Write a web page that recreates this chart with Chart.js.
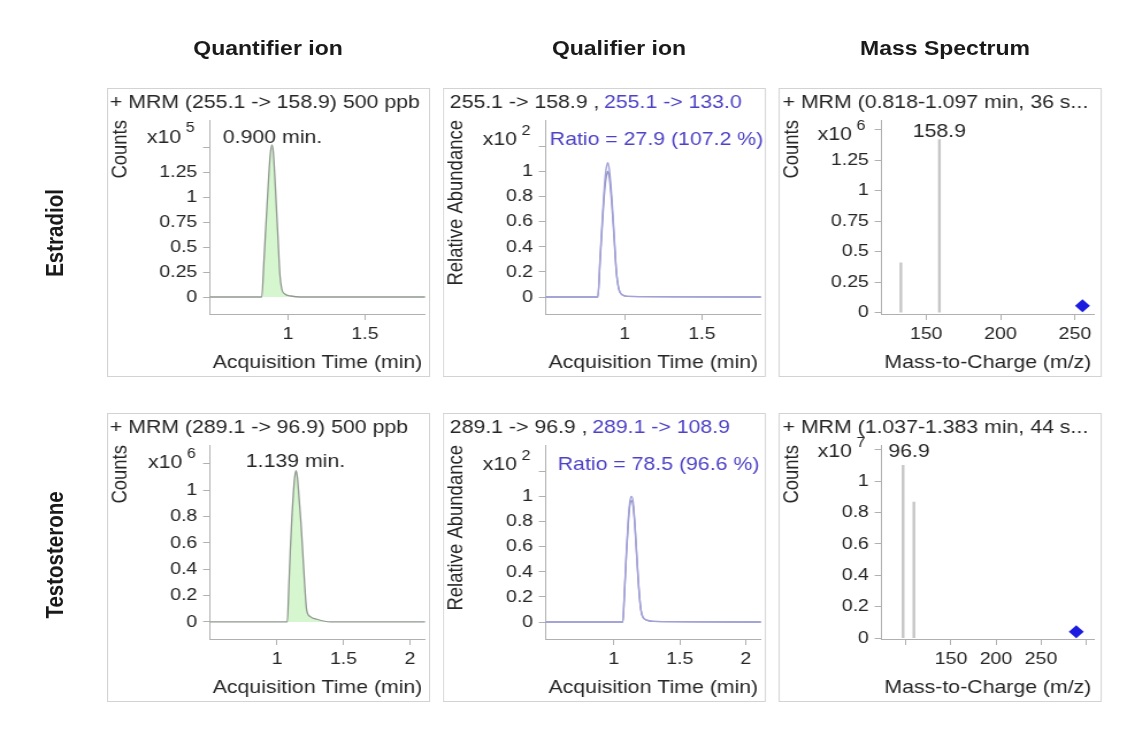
<!DOCTYPE html>
<html>
<head>
<meta charset="utf-8">
<title>Estradiol / Testosterone MRM</title>
<script src="https://cdn.jsdelivr.net/npm/chart.js@4.4.1/dist/chart.umd.min.js"></script>
<style>
  html, body { margin: 0; padding: 0; background: #fff; }
  body { width: 1135px; height: 730px; overflow: hidden; position: relative; }
  #page {
    position: absolute; left: 0; top: 0; height: 730px;
    transform-origin: 0 0;
    font-family: "Liberation Sans", Arial, sans-serif; color: #1a1a1a;
  }
  .panel { position: absolute; }
  .panel::after { content: ''; position: absolute; left: 0; top: 0; right: 0; bottom: 0; border: 1px solid #d3d3d3; pointer-events: none; }
  .panel canvas { position: absolute; left: 0; top: 0; }
  .colHead { position: absolute; top: 36px; line-height: 24px; font-weight: bold; font-size: 20px; white-space: nowrap; transform: translateX(-50%); }
  .rowHead { position: absolute; line-height: 24px; font-weight: bold; font-size: 20.5px; white-space: nowrap; transform: translate(-50%, -50%) rotate(-90deg); }
</style>
</head>
<body>
<div id="page"></div>
<script>
// headings
const columnTitles = ['Quantifier ion', 'Qualifier ion', 'Mass Spectrum'];
const compounds = ['Estradiol', 'Testosterone'];

// Estradiol quantifier 255.1 -> 158.9, counts x10^5
const e2QuantTime   = [0.49, 0.83, 0.845, 0.86, 0.875, 0.885, 0.896, 0.905, 0.915, 0.925, 0.935, 0.948, 0.96, 0.98, 1.02, 1.08, 1.9];
const e2QuantCounts = [0, 0, 0.38, 0.8, 1.2, 1.42, 1.52, 1.45, 1.2, 0.9, 0.6, 0.22, 0.08, 0.03, 0.01, 0, 0];

// Estradiol qualifier overlay, relative abundance x10^2
const e2QualTime = [0.48, 0.825, 0.84, 0.855, 0.87, 0.88, 0.89, 0.9, 0.915, 0.93, 0.945, 0.96, 0.98, 1.02, 1.9];
const e2QuantRel = [0, 0, 0.3, 0.6, 0.86, 0.96, 1.0, 0.95, 0.75, 0.48, 0.2, 0.07, 0.02, 0.005, 0];
const e2QualRel  = [0, 0, 0.32, 0.64, 0.92, 1.03, 1.07, 1.01, 0.8, 0.51, 0.21, 0.07, 0.02, 0.005, 0];

// Estradiol spectrum, counts x10^6
const e2IonMz = [133.0, 158.9];
const e2IonCounts = [0.41, 1.42];
const e2PrecursorMz = [255.1];
const e2PrecursorCounts = [0.057];

// Testosterone quantifier 289.1 -> 96.9, counts x10^6
const teQuantTime   = [0.49, 1.077, 1.09, 1.1, 1.112, 1.123, 1.133, 1.143, 1.153, 1.165, 1.18, 1.195, 1.21, 1.223, 1.25, 1.3, 1.4, 2.12];
const teQuantCounts = [0, 0, 0.3, 0.55, 0.8, 0.98, 1.1, 1.15, 1.1, 0.95, 0.75, 0.5, 0.25, 0.09, 0.04, 0.02, 0, 0];

// Testosterone qualifier overlay, relative abundance x10^2
const teQualTime = [0.48, 1.068, 1.08, 1.095, 1.11, 1.122, 1.134, 1.146, 1.16, 1.175, 1.19, 1.205, 1.22, 1.25, 1.3, 2.12];
const teQuantRel = [0, 0, 0.22, 0.55, 0.82, 0.96, 1.0, 0.96, 0.78, 0.52, 0.27, 0.1, 0.04, 0.015, 0.005, 0];
const teQualRel  = [0, 0, 0.21, 0.53, 0.79, 0.93, 0.966, 0.93, 0.76, 0.5, 0.26, 0.1, 0.04, 0.015, 0.005, 0];

// Testosterone spectrum, counts x10^7
const teIonMz = [96.9, 108.9];
const teIonCounts = [1.10, 0.866];
const tePrecursorMz = [289.1];
const tePrecursorCounts = [0.04];

// tick values and labels
const yTicksQuarter  = [0, 0.25, 0.5, 0.75, 1, 1.25, 1.5];
const yLabelsQuarter = ['0', '0.25', '0.5', '0.75', '1', '1.25', ''];
const yTicksFifth    = [0, 0.2, 0.4, 0.6, 0.8, 1, 1.2];
const yLabelsFifth   = ['0', '0.2', '0.4', '0.6', '0.8', '1', ''];
const e2TimeTicks  = [1, 1.5];
const e2TimeLabels = ['1', '1.5'];
const teTimeTicks  = [1, 1.5, 2];
const teTimeLabels = ['1', '1.5', '2'];
const e2MzTicks  = [150, 200, 250];
const e2MzLabels = ['150', '200', '250'];
const teMzTicks  = [100, 150, 200, 250, 300];
const teMzLabels = ['', '150', '200', '250', ''];

// ---- layout ----
const SX = 1.15; // source picture is stretched sideways
const BOX_W = 323, BOX_H = 289;
const COL_X = [107, 443, 779];
const ROW_Y = [88, 413];
const COL_CX = [268, 619, 945];
const ROW_CY = [233, 555];
const AREA_R = 318, AREA_L = 103, AREA_T = 32, AREA_B = 226;
const FONT = '"Liberation Sans", Arial, sans-serif';
const TXT = '#262626';
const AXIS = '#b0b0b0';
const BLUE = '#4d42c6';

const page = document.getElementById('page');
page.style.width = (1135 / SX) + 'px';
page.style.transform = 'scaleX(' + SX + ')';

columnTitles.forEach((t, i) => {
  const d = document.createElement('div');
  d.className = 'colHead';
  d.textContent = t;
  d.style.left = (COL_CX[i] / SX) + 'px';
  page.appendChild(d);
});
compounds.forEach((t, i) => {
  const d = document.createElement('div');
  d.className = 'rowHead';
  d.textContent = t;
  d.style.left = (55 / SX) + 'px';
  d.style.top = ROW_CY[i] + 'px';
  page.appendChild(d);
});

function xy(xs, ys) {
  return xs.map((x, i) => ({ x: x, y: ys[i] }));
}

// free text drawn on top of a panel (titles, multipliers, peak labels)
function textPlugin(items) {
  return {
    id: 'panelText',
    afterDraw(chart) {
      const ctx = chart.ctx;
      let cursor = 0;
      ctx.save();
      ctx.textBaseline = 'alphabetic';
      for (const it of items) {
        ctx.font = (it.size || 18.5) + 'px ' + FONT;
        ctx.fillStyle = it.color || TXT;
        ctx.textAlign = it.align || 'left';
        let x;
        if (it.vx !== undefined) x = chart.scales.x.getPixelForValue(it.vx) + (it.dx || 0) / SX;
        else if (it.follow) x = cursor + (it.gap || 0);
        else x = it.sx / SX;
        ctx.fillText(it.text, x, it.y);
        cursor = x + ctx.measureText(it.text).width;
      }
      ctx.restore();
    }
  };
}

function xAxis(min, max, ticks, labels, title) {
  return {
    type: 'linear', position: 'bottom', min: min, max: max, offset: false,
    afterBuildTicks: s => { s.ticks = ticks.map(v => ({ value: v })); },
    afterFit: s => { s.height = BOX_H - AREA_B; },
    ticks: { autoSkip: false, maxRotation: 0, minRotation: 0, padding: 4, color: TXT,
      font: { family: FONT, size: 17 }, callback: (v, i) => labels[i] },
    grid: { drawOnChartArea: false, tickLength: 6, color: AXIS, offset: false },
    border: { color: AXIS },
    title: { display: true, text: title, color: TXT, font: { family: FONT, size: 18.5 },
      padding: { top: 0, bottom: 3 } }
  };
}

function yAxis(min, max, ticks, labels, title) {
  return {
    type: 'linear', position: 'left', min: min, max: max,
    afterBuildTicks: s => { s.ticks = ticks.map(v => ({ value: v })); },
    afterFit: s => { s.width = AREA_L / SX; },
    ticks: { autoSkip: false, padding: 5, color: TXT,
      font: { family: FONT, size: 17 }, callback: (v, i) => labels[i] },
    grid: { drawOnChartArea: false, tickLength: 6, color: AXIS },
    border: { color: AXIS },
    title: { display: true, text: title, align: 'end', color: TXT, font: { family: FONT, size: 18.5 },
      padding: { top: 0.5, bottom: 0 } }
  };
}

function makePanel(row, col, datasets, scales, texts) {
  const box = document.createElement('div');
  box.className = 'panel';
  box.style.left = (COL_X[col] / SX) + 'px';
  box.style.top = ROW_Y[row] + 'px';
  box.style.width = (BOX_W / SX) + 'px';
  box.style.height = BOX_H + 'px';
  const cv = document.createElement('canvas');
  cv.width = Math.round(BOX_W / SX);
  cv.height = BOX_H;
  box.appendChild(cv);
  page.appendChild(box);
  return new Chart(cv, {
    type: 'line',
    data: { datasets: datasets },
    options: {
      responsive: false,
      animation: false,
      events: [],
      layout: { padding: { left: 0, top: AREA_T, right: (BOX_W - AREA_R) / SX, bottom: 0 } },
      plugins: { legend: { display: false }, tooltip: { enabled: false } },
      scales: scales
    },
    plugins: [textPlugin(texts)]
  });
}

function quantSet(t, c) {
  return { type: 'line', data: xy(t, c), borderColor: '#8f978f', borderWidth: 1.3,
    backgroundColor: 'rgba(212,245,204,0.95)', fill: 'origin', pointRadius: 0,
    cubicInterpolationMode: 'monotone' };
}
function qualSet(t, c, color) {
  return { type: 'line', data: xy(t, c), borderColor: color, borderWidth: 1.4,
    fill: false, pointRadius: 0, cubicInterpolationMode: 'monotone' };
}
function stickSet(mz, c) {
  return { type: 'bar', data: xy(mz, c), backgroundColor: '#c6c6c6', borderWidth: 0,
    barThickness: 2 / SX };
}
function precursorSet(mz, c) {
  return { type: 'scatter', data: xy(mz, c), pointStyle: 'rectRot', pointRadius: 6.5,
    backgroundColor: '#1c1ce0', borderColor: '#1c1ce0', borderWidth: 0, clip: false };
}

// Estradiol row
makePanel(0, 0, [quantSet(e2QuantTime, e2QuantCounts)], {
  x: xAxis(0.494, 1.89, e2TimeTicks, e2TimeLabels, 'Acquisition Time (min)'),
  y: yAxis(-0.17, 1.77, yTicksQuarter, yLabelsQuarter, 'Counts')
}, [
  { text: '+ MRM (255.1 -> 158.9) 500 ppb', sx: 3, y: 20 },
  { text: 'x10', sx: 40, y: 55 },
  { text: '5', follow: true, gap: 4, y: 44, size: 14 },
  { text: '0.900 min.', vx: 0.9, y: 55, align: 'center' }
]);

makePanel(0, 1, [qualSet(e2QualTime, e2QualRel, '#a2a2da'), qualSet(e2QualTime, e2QuantRel, '#9090c0')], {
  x: xAxis(0.487, 1.883, e2TimeTicks, e2TimeLabels, 'Acquisition Time (min)'),
  y: yAxis(-0.135, 1.41, yTicksFifth, yLabelsFifth, 'Relative Abundance')
}, [
  { text: '255.1 -> 158.9 ,', sx: 7, y: 20 },
  { text: '255.1 -> 133.0', follow: true, gap: 4, y: 20, color: BLUE },
  { text: 'x10', sx: 40, y: 57 },
  { text: '2', follow: true, gap: 4, y: 47, size: 14 },
  { text: 'Ratio = 27.9 (107.2 %)', sx: 107, y: 57, color: BLUE }
]);

makePanel(0, 2, [stickSet(e2IonMz, e2IonCounts), precursorSet(e2PrecursorMz, e2PrecursorCounts)], {
  x: xAxis(120, 263, e2MzTicks, e2MzLabels, 'Mass-to-Charge (m/z)'),
  y: yAxis(-0.01, 1.58, yTicksQuarter, yLabelsQuarter, 'Counts')
}, [
  { text: '+ MRM (0.818-1.097 min, 36 s...', sx: 4, y: 20 },
  { text: 'x10', sx: 39, y: 52 },
  { text: '6', follow: true, gap: 4, y: 42, size: 14 },
  { text: '158.9', vx: 158.9, y: 49, align: 'center' }
]);

// Testosterone row
makePanel(1, 0, [quantSet(teQuantTime, teQuantCounts)], {
  x: xAxis(0.496, 2.113, teTimeTicks, teTimeLabels, 'Acquisition Time (min)'),
  y: yAxis(-0.13, 1.344, yTicksFifth, yLabelsFifth, 'Counts')
}, [
  { text: '+ MRM (289.1 -> 96.9) 500 ppb', sx: 3, y: 20 },
  { text: 'x10', sx: 41, y: 55 },
  { text: '6', follow: true, gap: 4, y: 45, size: 14 },
  { text: '1.139 min.', vx: 1.139, y: 54, align: 'center' }
]);

makePanel(1, 1, [qualSet(teQualTime, teQuantRel, '#a2a2da'), qualSet(teQualTime, teQualRel, '#9090c0')], {
  x: xAxis(0.485, 2.114, teTimeTicks, teTimeLabels, 'Acquisition Time (min)'),
  y: yAxis(-0.135, 1.41, yTicksFifth, yLabelsFifth, 'Relative Abundance')
}, [
  { text: '289.1 -> 96.9 ,', sx: 7, y: 20 },
  { text: '289.1 -> 108.9', follow: true, gap: 4, y: 20, color: BLUE },
  { text: 'x10', sx: 40, y: 57 },
  { text: '2', follow: true, gap: 4, y: 47, size: 14 },
  { text: 'Ratio = 78.5 (96.6 %)', sx: 115, y: 57, color: BLUE }
]);

makePanel(1, 2, [stickSet(teIonMz, teIonCounts), precursorSet(tePrecursorMz, tePrecursorCounts)], {
  x: xAxis(73, 309, teMzTicks, teMzLabels, 'Mass-to-Charge (m/z)'),
  y: yAxis(-0.006, 1.23, yTicksFifth, yLabelsFifth, 'Counts')
}, [
  { text: '+ MRM (1.037-1.383 min, 44 s...', sx: 4, y: 20 },
  { text: 'x10', sx: 39, y: 44 },
  { text: '7', follow: true, gap: 4, y: 34, size: 14 },
  { text: '96.9', vx: 96.9, dx: 6, y: 44, align: 'center' }
]);
</script>
</body>
</html>
